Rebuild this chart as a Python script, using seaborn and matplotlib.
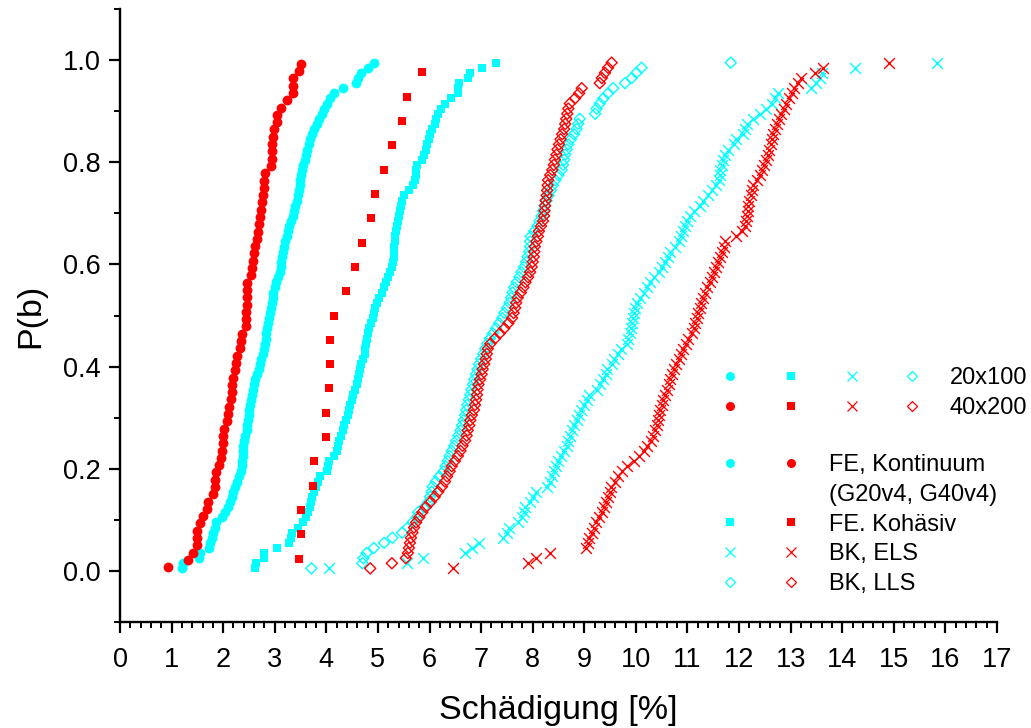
import matplotlib
matplotlib.use('Agg')
import matplotlib.pyplot as plt
import seaborn as sns
import numpy as np
import pandas as pd
from matplotlib.lines import Line2D
from matplotlib.legend_handler import HandlerTuple
from matplotlib.ticker import MultipleLocator

# Schädigung [%] values, sorted; P(b) is the plotting position (i - 0.5) / n
fe_kont_20 = [1.21, 1.22, 1.53, 1.55, 1.73, 1.75, 1.78, 1.81, 1.84, 1.87,
              1.97, 2.03, 2.09, 2.13, 2.17, 2.20, 2.23, 2.26, 2.30, 2.34,
              2.36, 2.37, 2.38, 2.39, 2.39, 2.41, 2.43, 2.46, 2.47, 2.49,
              2.50, 2.51, 2.52, 2.54, 2.56, 2.57, 2.59, 2.62, 2.65, 2.69,
              2.71, 2.74, 2.77, 2.80, 2.82, 2.83, 2.83, 2.84, 2.86, 2.89,
              2.91, 2.93, 2.94, 2.96, 2.97, 3.00, 3.03, 3.07, 3.10, 3.12,
              3.13, 3.14, 3.15, 3.17, 3.20, 3.23, 3.25, 3.28, 3.31, 3.35,
              3.37, 3.40, 3.43, 3.45, 3.47, 3.48, 3.49, 3.51, 3.52, 3.55,
              3.58, 3.61, 3.63, 3.66, 3.69, 3.72, 3.76, 3.82, 3.86, 3.91,
              3.96, 4.02, 4.07, 4.15, 4.33, 4.57, 4.62, 4.67, 4.81, 4.92]

fe_kont_40 = [0.94, 1.31, 1.41, 1.49, 1.49, 1.49, 1.55, 1.61, 1.69, 1.71,
              1.81, 1.84, 1.85, 1.87, 1.92, 1.95, 1.97, 1.99, 2.00, 2.01,
              2.08, 2.10, 2.11, 2.16, 2.18, 2.18, 2.20, 2.23, 2.25, 2.26,
              2.33, 2.34, 2.36, 2.44, 2.45, 2.45, 2.46, 2.46, 2.46, 2.47,
              2.54, 2.56, 2.58, 2.60, 2.62, 2.65, 2.68, 2.69, 2.71, 2.73,
              2.75, 2.78, 2.79, 2.79, 2.81, 2.93, 2.94, 2.95, 2.95, 2.97,
              2.98, 3.04, 3.05, 3.13, 3.23, 3.36, 3.36, 3.36, 3.47, 3.51]

fe_koh_20 = [2.62, 2.64, 2.79, 2.80, 3.04, 3.28, 3.32, 3.33, 3.45, 3.55,
             3.60, 3.65, 3.68, 3.70, 3.73, 3.77, 3.80, 3.84, 3.88, 4.02,
             4.04, 4.06, 4.15, 4.21, 4.23, 4.25, 4.29, 4.33, 4.35, 4.38,
             4.41, 4.44, 4.46, 4.49, 4.51, 4.55, 4.59, 4.61, 4.63, 4.65,
             4.68, 4.71, 4.74, 4.75, 4.77, 4.78, 4.80, 4.83, 4.86, 4.90,
             4.92, 4.95, 4.98, 5.03, 5.07, 5.12, 5.16, 5.19, 5.24, 5.27,
             5.29, 5.31, 5.32, 5.32, 5.33, 5.34, 5.35, 5.37, 5.39, 5.40,
             5.42, 5.44, 5.47, 5.50, 5.61, 5.67, 5.72, 5.73, 5.74, 5.76,
             5.85, 5.89, 5.93, 5.96, 5.99, 6.01, 6.05, 6.10, 6.13, 6.17,
             6.22, 6.30, 6.42, 6.56, 6.56, 6.57, 6.75, 6.78, 7.01, 7.28]

fe_koh_40 = [3.47, 3.50, 3.51, 3.75, 3.77, 3.99, 3.99, 4.06, 4.08, 4.08,
             4.15, 4.39, 4.55, 4.70, 4.87, 4.94, 5.12, 5.28, 5.46, 5.56, 5.85]

bk_els_20 = [4.06, 5.57, 5.87, 6.69, 6.82, 6.96, 7.43, 7.50, 7.55, 7.72,
             7.80, 7.83, 7.86, 7.95, 8.01, 8.06, 8.27, 8.33, 8.38, 8.42,
             8.46, 8.49, 8.55, 8.61, 8.66, 8.69, 8.72, 8.76, 8.80, 8.85,
             8.89, 8.94, 8.99, 9.05, 9.10, 9.24, 9.30, 9.37, 9.42, 9.45,
             9.53, 9.58, 9.66, 9.71, 9.82, 9.85, 9.88, 9.91, 9.93, 9.95,
             9.97, 9.99, 10.02, 10.08, 10.15, 10.22, 10.28, 10.35, 10.45, 10.50,
             10.56, 10.62, 10.66, 10.75, 10.84, 10.88, 10.92, 10.95, 11.00, 11.05,
             11.12, 11.24, 11.31, 11.39, 11.47, 11.56, 11.62, 11.63, 11.64, 11.66,
             11.69, 11.72, 11.79, 11.90, 11.95, 12.08, 12.12, 12.15, 12.28, 12.40,
             12.52, 12.63, 12.70, 12.75, 13.40, 13.50, 13.57, 13.60, 14.24, 15.84]

bk_els_40 = [6.45, 7.91, 8.07, 8.33, 9.04, 9.07, 9.10, 9.14, 9.19, 9.23,
             9.28, 9.34, 9.38, 9.42, 9.46, 9.49, 9.52, 9.60, 9.65, 9.74,
             9.82, 9.97, 10.06, 10.15, 10.22, 10.29, 10.34, 10.37, 10.40, 10.43,
             10.45, 10.47, 10.50, 10.53, 10.57, 10.61, 10.64, 10.67, 10.70, 10.74,
             10.78, 10.84, 10.88, 10.92, 10.97, 11.02, 11.08, 11.12, 11.15, 11.18,
             11.21, 11.24, 11.27, 11.30, 11.34, 11.38, 11.43, 11.48, 11.52, 11.56,
             11.60, 11.64, 11.67, 11.70, 11.72, 11.95, 12.05, 12.11, 12.13, 12.15,
             12.17, 12.18, 12.20, 12.23, 12.26, 12.28, 12.34, 12.40, 12.44, 12.48,
             12.53, 12.56, 12.58, 12.61, 12.63, 12.66, 12.69, 12.73, 12.77, 12.82,
             12.87, 12.91, 12.96, 13.02, 13.07, 13.15, 13.21, 13.47, 13.63, 14.90]

bk_lls_20 = [3.71, 4.70, 4.72, 4.78, 4.92, 5.12, 5.28, 5.47, 5.58, 5.67,
             5.75, 5.78, 5.90, 5.98, 6.01, 6.04, 6.06, 6.12, 6.19, 6.27,
             6.31, 6.35, 6.39, 6.43, 6.48, 6.52, 6.56, 6.60, 6.63, 6.66,
             6.69, 6.71, 6.73, 6.76, 6.79, 6.81, 6.84, 6.87, 6.90, 6.93,
             6.96, 7.00, 7.04, 7.08, 7.12, 7.17, 7.23, 7.29, 7.35, 7.41,
             7.45, 7.50, 7.55, 7.58, 7.61, 7.64, 7.69, 7.74, 7.78, 7.83,
             7.87, 7.90, 7.93, 7.95, 7.95, 7.96, 8.03, 8.09, 8.13, 8.17,
             8.20, 8.23, 8.27, 8.31, 8.35, 8.39, 8.44, 8.50, 8.56, 8.59,
             8.61, 8.63, 8.66, 8.69, 8.74, 8.80, 8.85, 8.88, 8.91, 9.21,
             9.24, 9.30, 9.37, 9.46, 9.56, 9.79, 9.92, 10.01, 10.11, 11.84]

bk_lls_40 = [4.85, 5.27, 5.54, 5.58, 5.60, 5.62, 5.64, 5.67, 5.70, 5.74,
             5.80, 5.86, 5.93, 6.02, 6.10, 6.17, 6.24, 6.30, 6.34, 6.39,
             6.43, 6.49, 6.55, 6.60, 6.64, 6.69, 6.72, 6.74, 6.77, 6.79,
             6.82, 6.86, 6.88, 6.90, 6.92, 6.93, 6.95, 6.98, 7.01, 7.03,
             7.06, 7.09, 7.11, 7.13, 7.18, 7.27, 7.36, 7.45, 7.53, 7.60,
             7.63, 7.66, 7.68, 7.71, 7.77, 7.82, 7.86, 7.91, 7.95, 7.98,
             8.00, 8.02, 8.03, 8.04, 8.07, 8.10, 8.12, 8.16, 8.20, 8.22,
             8.23, 8.24, 8.25, 8.27, 8.28, 8.29, 8.30, 8.34, 8.38, 8.41,
             8.43, 8.46, 8.48, 8.51, 8.54, 8.57, 8.61, 8.63, 8.65, 8.67,
             8.69, 8.72, 8.82, 8.90, 8.95, 9.30, 9.34, 9.40, 9.46, 9.53]

legend_sizes = ['20x100', '40x200']
legend_models = ['FE, Kontinuum', '(G20v4, G40v4)', 'FE. Kohäsiv', 'BK, ELS', 'BK, LLS']

CYAN = '#00FFFF'
RED = '#FF0000'

sns.set_style('ticks')
plt.rcParams['font.family'] = ['Liberation Sans', 'DejaVu Sans']
plt.rcParams['text.color'] = 'black'
plt.rcParams['axes.labelcolor'] = 'black'

fig = plt.figure(figsize=(10.31, 7.28), dpi=100)
ax = fig.add_axes([0.1164, 0.1456, 0.8506, 0.842])


def ecdf_frame(values):
    x = np.sort(np.asarray(values, dtype=float))
    n = len(x)
    return pd.DataFrame({'x': x, 'P': (np.arange(1, n + 1) - 0.5) / n})


# (data, colour, marker, filled, size)
series = [
    (fe_kont_20, CYAN, 'o', True, 50),
    (fe_kont_40, RED, 'o', True, 50),
    (fe_koh_20, CYAN, 's', True, 40),
    (fe_koh_40, RED, 's', True, 40),
    (bk_els_20, CYAN, 'x', False, 60),
    (bk_els_40, RED, 'x', False, 60),
    (bk_lls_20, CYAN, 'D', False, 32),
    (bk_lls_40, RED, 'D', False, 32),
]

for vals, col, mk, filled, size in series:
    df = ecdf_frame(vals)
    if filled:
        sns.scatterplot(data=df, x='x', y='P', ax=ax, color=col, marker=mk,
                        s=size, linewidth=0, legend=False)
    elif mk == 'x':
        sns.scatterplot(data=df, x='x', y='P', ax=ax, color=col, marker=mk,
                        s=size, linewidth=1.0, legend=False)
    else:
        sns.scatterplot(data=df, x='x', y='P', ax=ax, marker=mk, s=size,
                        facecolor='none', edgecolor=col, linewidth=1.0,
                        legend=False)

ax.set_xlim(0, 17)
ax.set_ylim(-0.1, 1.1)
ax.xaxis.set_major_locator(MultipleLocator(1))
ax.xaxis.set_minor_locator(MultipleLocator(0.2))
ax.set_yticks(np.arange(0, 1.01, 0.2))
ax.yaxis.set_minor_locator(MultipleLocator(0.1))
ax.yaxis.set_major_formatter(matplotlib.ticker.FormatStrFormatter('%.1f'))

sns.despine(ax=ax)
for sp in ['left', 'bottom']:
    ax.spines[sp].set_linewidth(1.7)
    ax.spines[sp].set_color('black')
ax.tick_params(which='major', direction='out', length=8, width=1.6,
               labelsize=19.5, colors='black')
ax.tick_params(axis='y', which='major', pad=6)
ax.tick_params(axis='x', which='major', pad=10)
ax.tick_params(which='minor', direction='out', length=4.5, width=1.4, colors='black')

ax.set_xlabel('Schädigung [%]', fontsize=24.5, labelpad=16)
ax.set_ylabel('P(b)', fontsize=24.5, labelpad=12)


def handle(col, mk, filled):
    ms = {'o': 6.5, 's': 5.8, 'x': 7, 'D': 5}[mk]
    return Line2D([], [], ls='none', marker=mk, ms=ms, color=col,
                  mfc=col if filled else 'none', mec=col, mew=0 if filled else 0.9)


blank = Line2D([], [], ls='none', marker=None)
kinds = [('o', True), ('s', True), ('x', False), ('D', False)]

h1 = [tuple(handle(c, m, f) for m, f in kinds) for c in (CYAN, RED)]
leg1 = ax.legend(h1, legend_sizes, handler_map={tuple: HandlerTuple(ndivide=None, pad=0)},
                 loc='upper left', bbox_to_anchor=(0.661, 0.416), frameon=False,
                 fontsize=17, handlelength=10.3, handletextpad=0.3,
                 labelspacing=0.33, borderpad=0, borderaxespad=0)
ax.add_artist(leg1)

h2 = [(handle(CYAN, 'o', True), handle(RED, 'o', True)),
      (blank, blank),
      (handle(CYAN, 's', True), handle(RED, 's', True)),
      (handle(CYAN, 'x', False), handle(RED, 'x', False)),
      (handle(CYAN, 'D', False), handle(RED, 'D', False))]
ax.legend(h2, legend_models, handler_map={tuple: HandlerTuple(ndivide=None, pad=0)},
          loc='upper left', bbox_to_anchor=(0.661, 0.274), frameon=False,
          fontsize=17, handlelength=5.17, handletextpad=0.3,
          labelspacing=0.33, borderpad=0, borderaxespad=0)

fig.savefig('out.png', dpi=100)
